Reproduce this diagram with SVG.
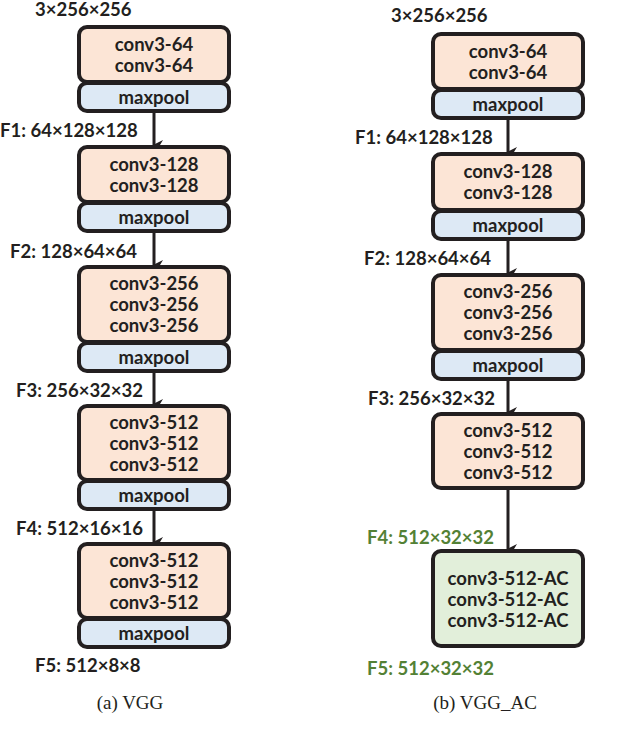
<svg xmlns="http://www.w3.org/2000/svg" width="622" height="746" viewBox="0 0 622 746">
<defs>
<marker id="ah" markerWidth="10" markerHeight="10" refX="5" refY="9" orient="auto" markerUnits="userSpaceOnUse" viewBox="0 0 10 10"><path d="M0,0 L5,10 L10,0 L5,3 Z" fill="#231f20"/></marker>
<style>
.b{stroke:#231f20;stroke-width:4}
.c{fill:#fce5d6}.m{fill:#dde9f5}.a{fill:#e2efda}
text{font-family:Lato,"Open Sans",sans-serif;font-weight:bold;font-size:18.5px;fill:#231f20}
.t{text-anchor:middle}
.g{fill:#538135}
.cap{font-family:"Liberation Serif",serif;font-weight:normal;font-size:19px;text-anchor:middle}
.ln{stroke:#231f20;stroke-width:3;fill:none}
</style>
</defs>
<g id="connectors">
<line class="ln" x1="154" y1="112" x2="154" y2="145" marker-end="url(#ah)"/>
<line class="ln" x1="154" y1="231" x2="154" y2="265" marker-end="url(#ah)"/>
<line class="ln" x1="154" y1="371" x2="154" y2="404" marker-end="url(#ah)"/>
<line class="ln" x1="154" y1="509" x2="154" y2="542" marker-end="url(#ah)"/>
<line class="ln" x1="508" y1="118" x2="508" y2="152" marker-end="url(#ah)"/>
<line class="ln" x1="508" y1="239" x2="508" y2="273" marker-end="url(#ah)"/>
<line class="ln" x1="508" y1="379" x2="508" y2="412" marker-end="url(#ah)"/>
<line class="ln" x1="508" y1="489" x2="508" y2="549" marker-end="url(#ah)"/>
</g>
<g id="labels">
<text x="35" y="16">3×256×256</text>
<text x="0" y="137">F1: 64×128×128</text>
<text x="10" y="258">F2: 128×64×64</text>
<text x="16" y="397">F3: 256×32×32</text>
<text x="16" y="535">F4: 512×16×16</text>
<text x="35" y="672">F5: 512×8×8</text>
<text x="391" y="22">3×256×256</text>
<text x="355" y="144">F1: 64×128×128</text>
<text x="364" y="265">F2: 128×64×64</text>
<text x="368" y="405">F3: 256×32×32</text>
<text class="g" x="367" y="544">F4: 512×32×32</text>
<text class="g" x="367" y="675">F5: 512×32×32</text>
<text class="cap" x="130" y="709">(a) VGG</text>
<text class="cap" x="485" y="709">(b) VGG_AC</text>
</g>
<g id="vgg1"><rect class="b c" x="79" y="27" width="150" height="55" rx="8"/><text class="t" x="154" y="51">conv3-64</text><text class="t" x="154" y="72">conv3-64</text></g>
<g id="vgg1p"><rect class="b m" x="79" y="83" width="150" height="28" rx="8"/><text class="t" x="154" y="104">maxpool</text></g>
<g id="vgg2"><rect class="b c" x="79" y="147" width="150" height="55" rx="8"/><text class="t" x="154" y="171">conv3-128</text><text class="t" x="154" y="192">conv3-128</text></g>
<g id="vgg2p"><rect class="b m" x="79" y="203" width="150" height="28" rx="8"/><text class="t" x="154" y="224">maxpool</text></g>
<g id="vgg3"><rect class="b c" x="79" y="267" width="150" height="75" rx="8"/><text class="t" x="154" y="290">conv3-256</text><text class="t" x="154" y="311">conv3-256</text><text class="t" x="154" y="332">conv3-256</text></g>
<g id="vgg3p"><rect class="b m" x="79" y="343" width="150" height="28" rx="8"/><text class="t" x="154" y="364">maxpool</text></g>
<g id="vgg4"><rect class="b c" x="79" y="406" width="150" height="74" rx="8"/><text class="t" x="154" y="429">conv3-512</text><text class="t" x="154" y="450">conv3-512</text><text class="t" x="154" y="471">conv3-512</text></g>
<g id="vgg4p"><rect class="b m" x="79" y="481" width="150" height="28" rx="8"/><text class="t" x="154" y="502">maxpool</text></g>
<g id="vgg5"><rect class="b c" x="79" y="544" width="150" height="74" rx="8"/><text class="t" x="154" y="567">conv3-512</text><text class="t" x="154" y="588">conv3-512</text><text class="t" x="154" y="609">conv3-512</text></g>
<g id="vgg5p"><rect class="b m" x="79" y="619" width="150" height="28" rx="8"/><text class="t" x="154" y="640">maxpool</text></g>
<g id="ac1"><rect class="b c" x="433" y="34" width="150" height="55" rx="8"/><text class="t" x="508" y="58">conv3-64</text><text class="t" x="508" y="79">conv3-64</text></g>
<g id="ac1p"><rect class="b m" x="433" y="90" width="150" height="28" rx="8"/><text class="t" x="508" y="111">maxpool</text></g>
<g id="ac2"><rect class="b c" x="433" y="154" width="150" height="56" rx="8"/><text class="t" x="508" y="178">conv3-128</text><text class="t" x="508" y="199">conv3-128</text></g>
<g id="ac2p"><rect class="b m" x="433" y="211" width="150" height="28" rx="8"/><text class="t" x="508" y="232">maxpool</text></g>
<g id="ac3"><rect class="b c" x="433" y="275" width="150" height="75" rx="8"/><text class="t" x="508" y="298">conv3-256</text><text class="t" x="508" y="319">conv3-256</text><text class="t" x="508" y="340">conv3-256</text></g>
<g id="ac3p"><rect class="b m" x="433" y="351" width="150" height="28" rx="8"/><text class="t" x="508" y="372">maxpool</text></g>
<g id="ac4"><rect class="b c" x="433" y="414" width="150" height="74" rx="8"/><text class="t" x="508" y="437">conv3-512</text><text class="t" x="508" y="458">conv3-512</text><text class="t" x="508" y="479">conv3-512</text></g>
<g id="ac5"><rect class="b a" x="433" y="551" width="150" height="95" rx="8"/><text class="t" x="508" y="585">conv3-512-AC</text><text class="t" x="508" y="606">conv3-512-AC</text><text class="t" x="508" y="627">conv3-512-AC</text></g>
</svg>
